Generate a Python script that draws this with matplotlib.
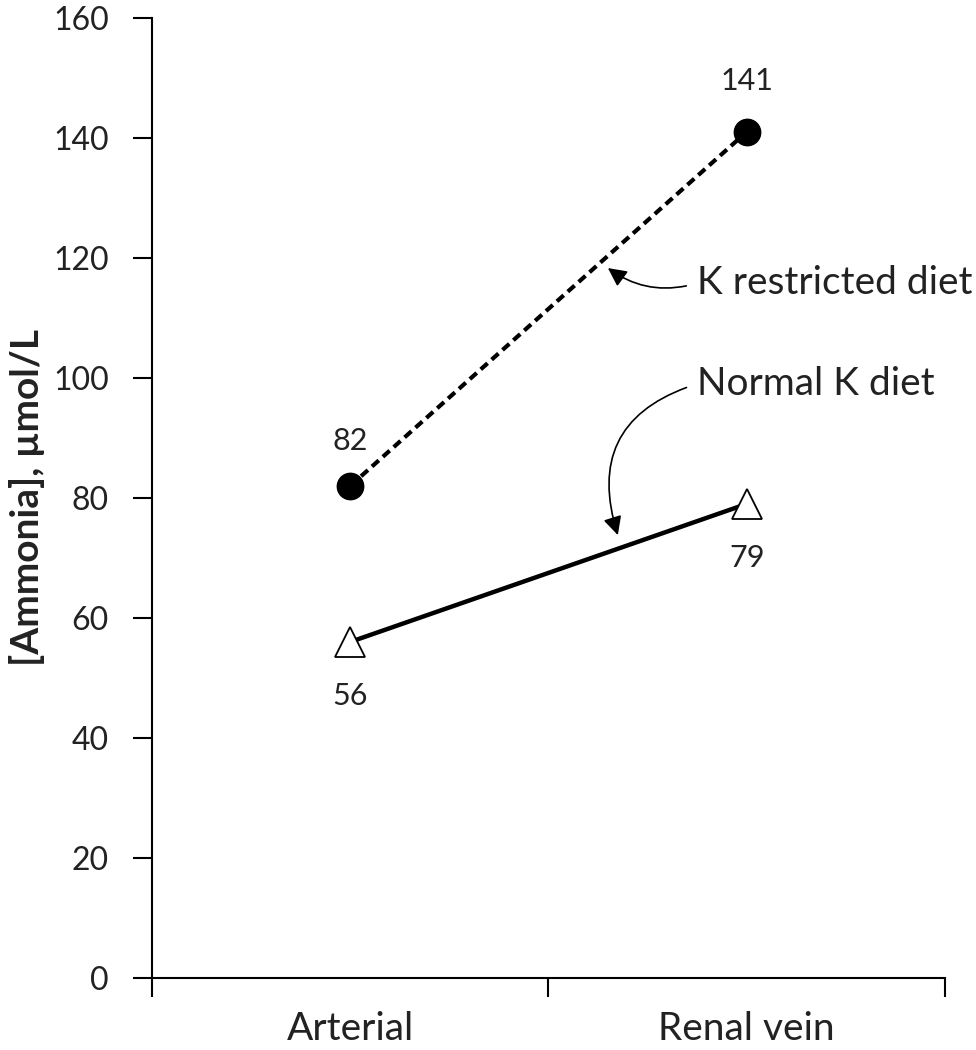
import numpy as np
import matplotlib.pyplot as plt

# --- Data ---
sites = ["Arterial", "Renal vein"]
k_restricted = [82, 141]
normal_k = [56, 79]
y_ticks = [0, 20, 40, 60, 80, 100, 120, 140, 160]

plt.rcParams['font.family'] = ['Lato', 'DejaVu Sans']

fig = plt.figure(figsize=(9.76, 10.5), dpi=100)
ax = fig.add_axes([0.1557, 0.0686, 0.8125, 0.9144])

x = np.array([0.5, 1.5])

# K restricted diet: dashed line, filled circles
ax.plot(x, k_restricted, color='black', linestyle=(0, (2.2, 1.3)), linewidth=3,
        marker='o', markersize=19, markerfacecolor='black', markeredgecolor='black',
        zorder=3)
# Normal K diet: solid line, open triangles
ax.plot(x, normal_k, color='black', linestyle='-', linewidth=3.2,
        marker='^', markersize=21, markerfacecolor='white', markeredgecolor='black',
        markeredgewidth=1.3, zorder=3)

# Value labels
lab_kw = dict(ha='center', va='center', fontsize=22, color='#222222')
ax.text(x[0], k_restricted[0] + 7.5, str(k_restricted[0]), **lab_kw)
ax.text(x[1], k_restricted[1] + 8.5, str(k_restricted[1]), **lab_kw)
ax.text(x[1], normal_k[1] - 9, str(normal_k[1]), **lab_kw)
ax.text(x[0], normal_k[0] - 9, str(normal_k[0]), **lab_kw)

# Annotations, arrows leave from the left edge of the text
ax.annotate("K restricted diet", xy=(1.15, 118.3), xytext=(1.375, 115.8),
            ha='left', va='center', fontsize=28, color='#222222',
            arrowprops=dict(arrowstyle='-|>', color='black', lw=1.2,
                            mutation_scale=28, shrinkA=6, shrinkB=0,
                            relpos=(0, 0.5),
                            connectionstyle='arc3,rad=-0.25'))
ax.annotate("Normal K diet", xy=(1.175, 73.8), xytext=(1.375, 99),
            ha='left', va='center', fontsize=28, color='#222222',
            arrowprops=dict(arrowstyle='-|>', color='black', lw=1.2,
                            mutation_scale=28, shrinkA=6, shrinkB=0,
                            relpos=(0, 0.5),
                            connectionstyle='arc3,rad=0.5'))

# Axes styling
ax.set_xlim(0, 2)
ax.set_ylim(0, 160)
ax.set_yticks(y_ticks)
ax.set_yticklabels([str(v) for v in y_ticks], fontsize=23, color='#222222')
ax.set_xticks([0, 1, 2])
ax.set_xticklabels([])
ax.set_xticks(x, minor=True)
ax.set_xticklabels(sites, minor=True, fontsize=28, color='#222222')
ax.tick_params(axis='x', which='minor', length=0, pad=24)
ax.tick_params(axis='x', which='major', direction='out', length=14, width=1.5)
ax.tick_params(axis='y', direction='out', length=14, width=1.5, pad=17)

for side in ['top', 'right']:
    ax.spines[side].set_visible(False)
for side in ['left', 'bottom']:
    ax.spines[side].set_linewidth(1.5)

ax.set_ylabel("[Ammonia], \u00b5mol/L", fontsize=28, fontweight='bold',
              labelpad=6, color='#222222')

fig.savefig("out.png", dpi=100)
